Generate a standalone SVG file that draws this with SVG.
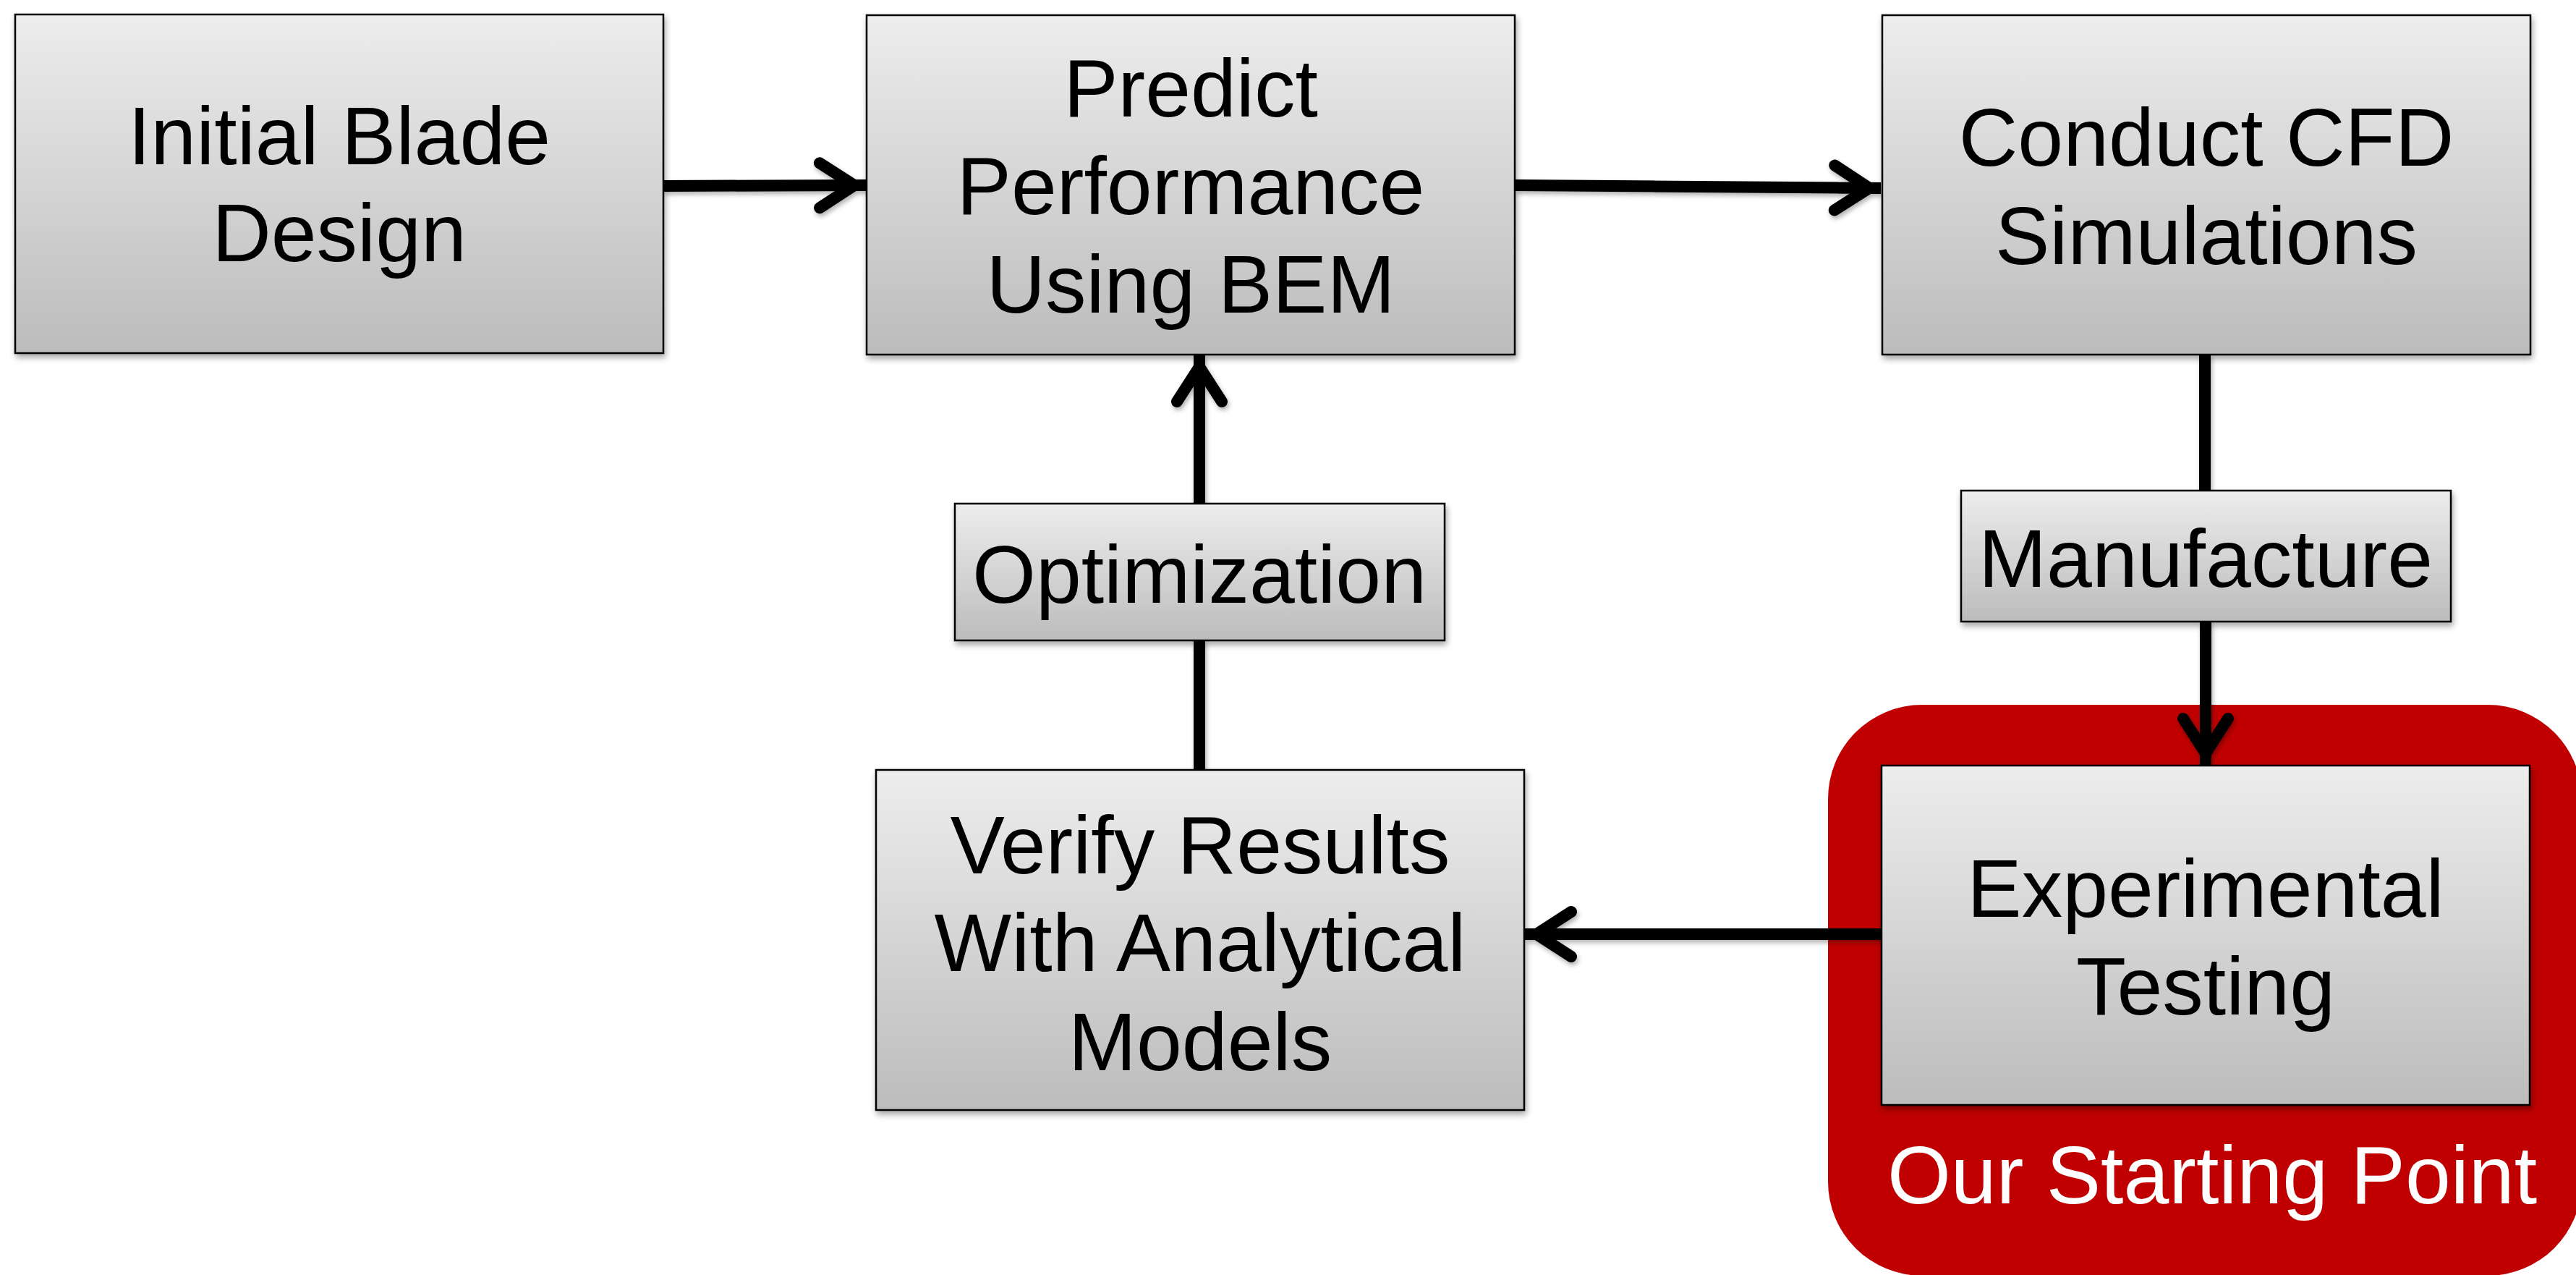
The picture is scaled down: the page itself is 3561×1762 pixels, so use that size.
<svg xmlns="http://www.w3.org/2000/svg" width="3561" height="1762" viewBox="0 0 3561 1762">
<style>
.box{fill:url(#g);stroke:#000;stroke-width:2.5;filter:url(#sh)}
.t{font-family:"Liberation Sans",Arial,sans-serif;font-size:113px;fill:#000;text-anchor:middle}
.w{fill:#fff}
.c{fill:none;stroke:#000;stroke-width:16}
</style>
<defs>
<linearGradient id="g" x1="0" y1="0" x2="0" y2="1">
<stop offset="0" stop-color="#EDEDED"/>
<stop offset="1" stop-color="#BCBCBC"/>
</linearGradient>
<filter id="sh" x="-5%" y="-5%" width="115%" height="120%">
<feDropShadow dx="2" dy="5" stdDeviation="4" flood-color="#000" flood-opacity="0.35"/>
</filter>
<filter id="lsh" x="-10%" y="-10%" width="120%" height="120%">
<feDropShadow dx="2" dy="4" stdDeviation="3" flood-color="#000" flood-opacity="0.3"/>
</filter>
<marker id="arr" markerUnits="userSpaceOnUse" orient="auto" overflow="visible" markerWidth="1" markerHeight="1" refX="0" refY="0">
<path d="M-64,-31 L-16,0 L-64,31" fill="none" stroke="#000" stroke-width="16" stroke-linecap="round" stroke-linejoin="miter" stroke-miterlimit="10"/>
</marker>
</defs>
<rect width="3561" height="1762" fill="#fff"/>
<g id="highlight">
<rect x="2527" y="974" width="1042" height="789" rx="130" ry="130" fill="#C00000"/>
<text class="t w" x="3058" y="1663">Our Starting Point</text>
</g>
<g id="connectors" filter="url(#lsh)">
<line class="c" x1="917" y1="257" x2="1197" y2="256" marker-end="url(#arr)"/>
<line class="c" x1="2094" y1="256" x2="2600" y2="260" marker-end="url(#arr)"/>
<line class="c" x1="3048" y1="490" x2="3048" y2="678"/>
<line class="c" x1="3049" y1="859" x2="3049" y2="1057" marker-end="url(#arr)"/>
<line class="c" x1="2601" y1="1291" x2="2108" y2="1291" marker-end="url(#arr)"/>
<line class="c" x1="1658" y1="1064" x2="1658" y2="885"/>
<line class="c" x1="1658" y1="696" x2="1658" y2="491" marker-end="url(#arr)"/>
</g>
<g id="initial">
<rect class="box" x="21" y="20" width="896" height="468"/>
<text class="t" x="469" y="227">Initial Blade</text>
<text class="t" x="469" y="361">Design</text>
</g>
<g id="predict">
<rect class="box" x="1198" y="21" width="896" height="469"/>
<text class="t" x="1646" y="161">Predict</text>
<text class="t" x="1646" y="296">Performance</text>
<text class="t" x="1646" y="432">Using BEM</text>
</g>
<g id="cfd">
<rect class="box" x="2602" y="21" width="896" height="469"/>
<text class="t" x="3050" y="229">Conduct CFD</text>
<text class="t" x="3050" y="365">Simulations</text>
</g>
<g id="manufacture">
<rect class="box" x="2711" y="678" width="677" height="181"/>
<text class="t" x="3049" y="811">Manufacture</text>
</g>
<g id="optimization">
<rect class="box" x="1320" y="696" width="677" height="189"/>
<text class="t" x="1658" y="833">Optimization</text>
</g>
<g id="verify">
<rect class="box" x="1211" y="1064" width="896" height="470"/>
<text class="t" x="1659" y="1207">Verify Results</text>
<text class="t" x="1659" y="1342">With Analytical</text>
<text class="t" x="1659" y="1479">Models</text>
</g>
<g id="experimental">
<rect class="box" x="2601" y="1058" width="896" height="469"/>
<text class="t" x="3049" y="1267">Experimental</text>
<text class="t" x="3049" y="1402">Testing</text>
</g>
</svg>
